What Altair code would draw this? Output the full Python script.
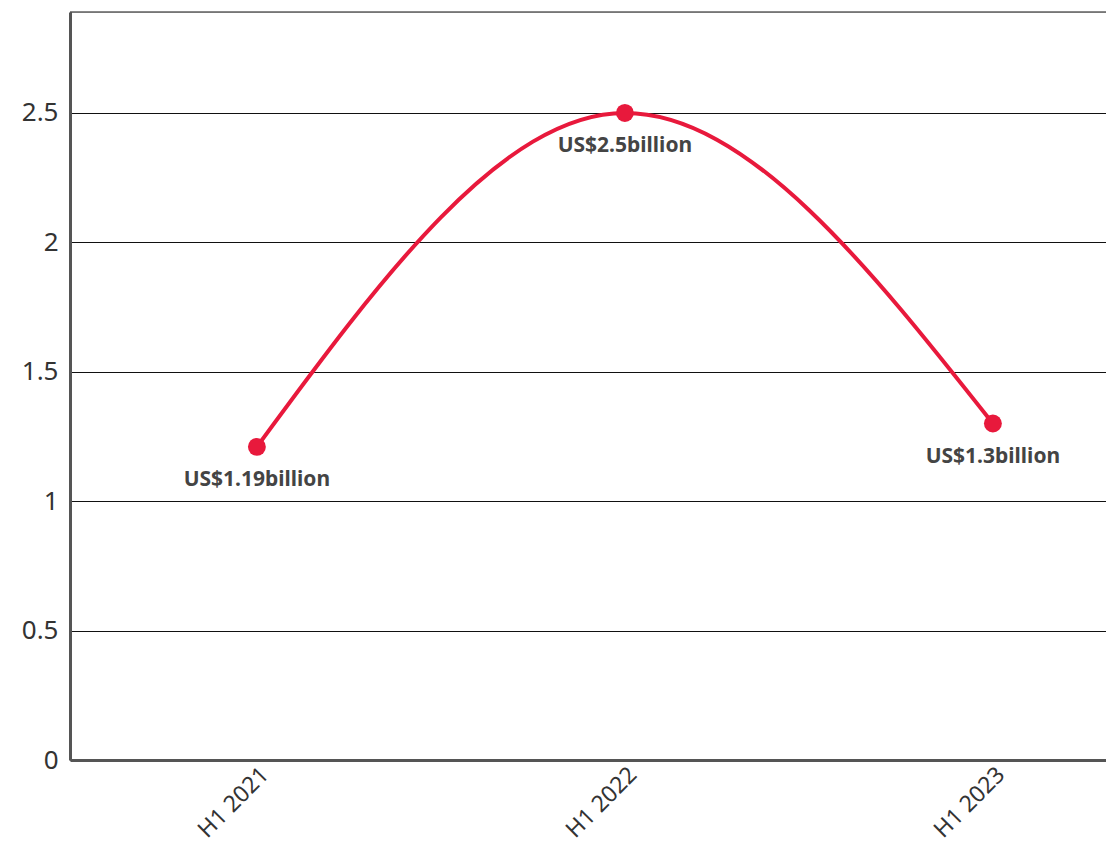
import altair as alt
import pandas as pd

periods = ["H1 2021", "H1 2022", "H1 2023"]
values = [1.21, 2.5, 1.3]
labels = ["US$1.19billion", "US$2.5billion", "US$1.3billion"]
y_ticks = [0, 0.5, 1, 1.5, 2, 2.5]
Y_MAX = 2.89

df = pd.DataFrame({"period": periods, "value": values, "label": labels})

FONT = "Noto Sans"
RED = "#E8193C"

x_enc = alt.X("period:N", sort=periods,
              scale=alt.Scale(type="point", padding=0.4076, align=0.623),
              axis=alt.Axis(title=None, labelAngle=-45, labelFontSize=23, labelColor="#333",
                            labelFont=FONT, ticks=False, domainColor="#555", domainWidth=3,
                            labelPadding=3, grid=False))
y_enc = alt.Y("value:Q", scale=alt.Scale(domain=[0, Y_MAX], nice=False, zero=True),
              axis=alt.Axis(title=None, values=y_ticks, format="~g", labelFontSize=26,
                            labelColor="#333", labelFont=FONT, ticks=False, domainColor="#555",
                            domainWidth=3, labelPadding=12, grid=True, gridColor="#111",
                            gridWidth=1))

base = alt.Chart(df)

line = base.mark_line(color=RED, strokeWidth=4, interpolate="monotone").encode(x=x_enc, y=y_enc)
points = base.mark_point(filled=True, color=RED, size=320, opacity=1).encode(x=x_enc, y=y_enc)
text = base.mark_text(font=FONT, fontSize=21, fontWeight="bold", color="#444",
                      baseline="middle", align="center", dy=33).encode(
    x=x_enc, y=y_enc, text="label:N")
top = alt.Chart(pd.DataFrame({"v": [Y_MAX]})).mark_rule(color="#111", strokeWidth=1).encode(
    y=alt.Y("v:Q", scale=alt.Scale(domain=[0, Y_MAX], nice=False)))

chart = alt.layer(top, line, points, text).properties(
    width=1036, height=748,
    autosize=alt.AutoSizeParams(type="none"),
    padding={"left": 62, "top": 4, "right": 0, "bottom": 84},
).configure_view(stroke=None).configure(background="white")

chart.save("out.html", embed_options={"renderer": "svg", "actions": False})
